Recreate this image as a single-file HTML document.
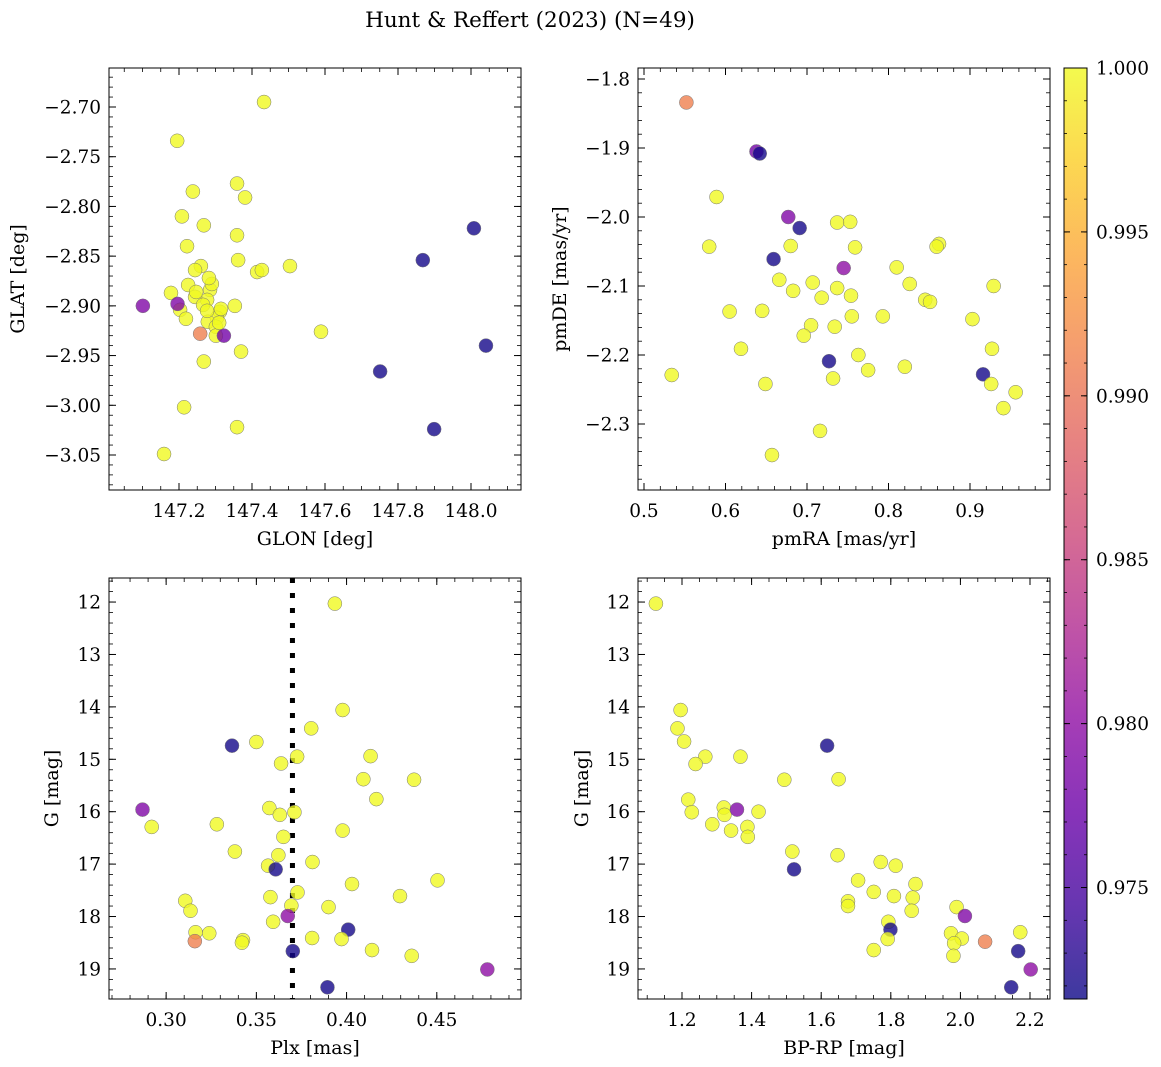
<!DOCTYPE html>
<html><head><meta charset="utf-8"><style>
html,body{margin:0;padding:0;background:#fff;}
svg{display:block;font-family:"DejaVu Serif","Liberation Serif",serif;}
</style></head><body>
<svg id="fig" width="1161" height="1067" viewBox="0 0 1161 1067" xmlns="http://www.w3.org/2000/svg">
<defs><linearGradient id="plasma" x1="0" y1="1" x2="0" y2="0"></linearGradient></defs>
<text x="530" y="27" font-size="21.5" text-anchor="middle">Hunt &amp; Reffert (2023) (N=49)</text>
</svg>
<script>
// ---- data ----
const tlLon=[147.101,147.433,147.195,147.238,147.359,147.381,147.208,147.268,147.359,147.222,147.260,147.244,147.362,147.414,147.427,147.504,147.178,147.225,147.285,147.290,147.277,147.244,147.203,147.353,147.266,147.312,147.304,147.219,147.279,147.301,147.258,147.301,147.323,147.589,147.370,147.268,147.214,147.359,147.159,148.008,147.868,148.041,147.751,147.899,147.282,147.310,147.247,147.277,147.315];
const tlLat=[-2.900,-2.695,-2.734,-2.785,-2.777,-2.791,-2.810,-2.819,-2.829,-2.840,-2.860,-2.864,-2.854,-2.866,-2.864,-2.860,-2.887,-2.879,-2.884,-2.878,-2.894,-2.891,-2.904,-2.900,-2.899,-2.906,-2.912,-2.913,-2.916,-2.921,-2.928,-2.930,-2.930,-2.926,-2.946,-2.956,-3.002,-3.022,-3.049,-2.822,-2.854,-2.940,-2.966,-3.024,-2.872,-2.917,-2.886,-2.905,-2.903];
const tlC=[0.979,1,1,1,1,1,1,1,1,1,1,1,1,1,1,1,1,1,1,1,1,1,1,1,1,1,1,1,1,1,0.991,1,0.978,1,1,1,1,1,1,0.972,0.972,0.972,0.972,0.972,1,1,1,1,1];
const tlPurple=[147.196,-2.898,0.979];
const trRA=[0.552,0.638,0.642,0.589,0.677,0.691,0.737,0.753,0.580,0.680,0.759,0.862,0.859,0.659,0.745,0.810,0.666,0.707,0.826,0.683,0.737,0.718,0.754,0.929,0.845,0.851,0.605,0.645,0.755,0.793,0.903,0.705,0.734,0.696,0.619,0.927,0.763,0.727,0.775,0.820,0.534,0.916,0.732,0.649,0.926,0.956,0.941,0.716,0.657];
const trDE=[-1.834,-1.905,-1.908,-1.971,-2.000,-2.016,-2.008,-2.007,-2.043,-2.042,-2.044,-2.039,-2.043,-2.061,-2.074,-2.073,-2.091,-2.095,-2.097,-2.107,-2.103,-2.117,-2.114,-2.100,-2.120,-2.123,-2.137,-2.136,-2.144,-2.144,-2.148,-2.157,-2.159,-2.172,-2.191,-2.191,-2.200,-2.209,-2.222,-2.217,-2.229,-2.228,-2.234,-2.242,-2.242,-2.254,-2.277,-2.310,-2.345];
const trC=[0.991,0.978,0.972,1,0.979,0.972,1,1,1,1,1,1,1,0.972,0.980,1,1,1,1,1,1,1,1,1,1,1,1,1,1,1,1,1,1,1,1,1,1,0.972,1,1,1,0.972,1,1,1,1,1,1,1];
const blPlx=[0.3935,0.3978,0.3804,0.3365,0.350,0.3726,0.3637,0.4133,0.4093,0.4374,0.4165,0.2869,0.3572,0.363,0.3711,0.292,0.3281,0.3978,0.365,0.3381,0.3622,0.3565,0.3607,0.3811,0.4504,0.403,0.4296,0.3728,0.3578,0.3106,0.3135,0.3694,0.39,0.3674,0.3593,0.4009,0.3163,0.3239,0.3159,0.3426,0.342,0.3809,0.3972,0.4141,0.4361,0.3702,0.478,0.3894];
const blG=[12.03,14.06,14.41,14.74,14.67,14.95,15.08,14.94,15.38,15.39,15.76,15.96,15.93,16.06,16.01,16.29,16.24,16.36,16.48,16.76,16.83,17.03,17.10,16.96,17.31,17.38,17.61,17.54,17.63,17.70,17.89,17.79,17.82,17.99,18.10,18.25,18.30,18.32,18.47,18.45,18.50,18.41,18.43,18.64,18.75,18.66,19.01,19.35];
const blC=[1,1,1,0.972,1,1,1,1,1,1,1,0.979,1,1,1,1,1,1,1,1,1,1,0.972,1,1,1,1,1,1,1,1,1,1,0.980,1,0.972,1,1,0.991,1,1,1,1,1,1,0.972,0.980,0.972];
const brBR=[1.125,1.196,1.187,1.206,1.267,1.239,1.368,1.617,1.494,1.650,1.218,1.228,1.320,1.322,1.358,1.420,1.287,1.388,1.341,1.389,1.517,1.522,1.647,1.771,1.814,1.706,1.871,1.751,1.809,1.863,1.677,1.677,1.860,1.989,2.013,1.793,1.799,1.791,1.751,1.973,2.004,1.982,1.980,2.071,2.172,2.166,2.202,2.146];
const brG=[12.03,14.06,14.41,14.66,14.95,15.09,14.95,14.74,15.39,15.38,15.77,16.01,15.92,16.06,15.96,16.0,16.24,16.29,16.36,16.48,16.76,17.10,16.83,16.96,17.03,17.31,17.38,17.53,17.61,17.64,17.71,17.80,17.89,17.82,17.99,18.10,18.25,18.43,18.64,18.32,18.42,18.51,18.75,18.48,18.30,18.66,19.01,19.35];
const brC=[1,1,1,1,1,1,1,0.972,1,1,1,1,1,1,0.979,1,1,1,1,1,1,0.972,1,1,1,1,1,1,1,1,1,1,1,1,0.979,1,0.972,1,1,1,1,1,1,0.991,1,0.972,0.980,0.972];
const plxLine=0.370;
const cbTicks=[0.975,0.980,0.985,0.990,0.995,1.000];
const cMin=0.9716, cMax=1.0;

const NS="http://www.w3.org/2000/svg";
const svg=document.getElementById('fig');
function mk(tag,attrs,parent){const e=document.createElementNS(NS,tag);for(const k in attrs)e.setAttribute(k,attrs[k]);(parent||svg).appendChild(e);return e;}
const stops=[[13,8,135],[65,4,157],[106,0,168],[143,13,164],[177,42,144],[204,71,120],[225,100,98],[242,132,75],[252,166,54],[252,206,37],[240,249,33]];
function plasma(t){t=Math.max(0,Math.min(1,t))*10;const i=Math.min(9,Math.floor(t)),f=t-i;const a=stops[i],b=stops[i+1];return 'rgb('+a.map((v,k)=>Math.round(v+(b[k]-v)*f)).join(',')+')';}
function cnorm(c){return (c-cMin)/(cMax-cMin);}
const grad=document.getElementById('plasma');
for(let i=0;i<=10;i++){mk('stop',{offset:(i*10)+'%','stop-color':plasma(i/10)},grad);}
function fmt(v,d){const s=Math.abs(v).toFixed(d);return (v<0?'\u2212':'')+s;}
const TFS=18.5, LFS=19;

function panel(name,box,xr,yr,xt,xd,xm,yt,yd,ym,xlab,ylab,ylabX,xs,ys,cs,extra){
  const [L,T,R,B]=box;
  const X=v=>L+(v-xr[0])/(xr[1]-xr[0])*(R-L);
  const Y=v=>T+(v-yr[1])/(yr[0]-yr[1])*(B-T);
  const g=mk('g',{});
  
  
  if(extra) extra(g,X,Y);
  for(let i=0;i<xs.length;i++){
    const c=mk('circle',{cx:X(xs[i]),cy:Y(ys[i]),r:7,fill:plasma(cnorm(cs[i])),'fill-opacity':0.8,stroke:'#777','stroke-width':0.5},g);
    
    
  }
  const fr=mk('rect',{x:L,y:T,width:R-L,height:B-T,fill:'none',stroke:'#000','stroke-width':1},g);
  
  
  const eps=1e-9;
  for(let v=Math.ceil(xr[0]/xm-eps)*xm; v<=xr[1]+eps; v+=xm){const x=X(v);mk('line',{x1:x,x2:x,y1:B,y2:B-4,stroke:'#000','stroke-width':0.8},g);mk('line',{x1:x,x2:x,y1:T,y2:T+4,stroke:'#000','stroke-width':0.8},g);}
  const yl=Math.min(yr[0],yr[1]),yh=Math.max(yr[0],yr[1]);
  for(let v=Math.ceil(yl/ym-eps)*ym; v<=yh+eps; v+=ym){const y=Y(v);mk('line',{x1:L,x2:L+4,y1:y,y2:y,stroke:'#000','stroke-width':0.8},g);mk('line',{x1:R,x2:R-4,y1:y,y2:y,stroke:'#000','stroke-width':0.8},g);}
  xt.forEach(v=>{const x=X(v);mk('line',{x1:x,x2:x,y1:B,y2:B-7,stroke:'#000','stroke-width':1},g);mk('line',{x1:x,x2:x,y1:T,y2:T+7,stroke:'#000','stroke-width':1},g);
    const t=mk('text',{x:x,y:B+27,'font-size':TFS,'text-anchor':'middle'},g);t.textContent=fmt(v,xd);
    
    });
  yt.forEach(v=>{const y=Y(v);mk('line',{x1:L,x2:L+7,y1:y,y2:y,stroke:'#000','stroke-width':1},g);mk('line',{x1:R,x2:R-7,y1:y,y2:y,stroke:'#000','stroke-width':1},g);
    const t=mk('text',{x:L-8,y:y+6.5,'font-size':TFS,'text-anchor':'end'},g);t.textContent=fmt(v,yd);
    
    });
  const xl=mk('text',{x:(L+R)/2,y:B+55,'font-size':LFS,'text-anchor':'middle'},g);xl.textContent=xlab;
  
  
  const cy=(T+B)/2;
  const yl2=mk('text',{x:ylabX,y:cy,'font-size':LFS,'text-anchor':'middle',transform:'rotate(-90 '+ylabX+' '+cy+')'},g);yl2.textContent=ylab;
  
  
}
panel('glon-glat-panel',[109,68,521,490],[147.2-70/365,148.0+50/365],[-3.05-35/994.3,-2.70+39/994.3],
  [147.2,147.4,147.6,147.8,148.0],1,0.05,[-2.70,-2.75,-2.80,-2.85,-2.90,-2.95,-3.00,-3.05],2,0.01,'GLON [deg]','GLAT [deg]',24,
  tlLon.concat([tlPurple[0]]),tlLat.concat([tlPurple[1]]),tlC.concat([tlPurple[2]]));
panel('pm-panel',[638,68,1050,490],[0.5-6/815,0.9+80/815],[-2.3-66/690,-1.8+11/690],
  [0.5,0.6,0.7,0.8,0.9],1,0.02,[-1.8,-1.9,-2.0,-2.1,-2.2,-2.3],1,0.02,'pmRA [mas/yr]','pmDE [mas/yr]',566,trRA,trDE,trC);
panel('plx-g-panel',[109,578,521,999],[0.30-57/1800,0.45+84/1800],[19+30/52.3,12-24/52.3],
  [0.30,0.35,0.40,0.45],2,0.01,[12,13,14,15,16,17,18,19],0,0.2,'Plx [mas]','G [mag]',58,blPlx,blG,blC,
  (g,X,Y)=>{const l=mk('line',{x1:X(plxLine),x2:X(plxLine),y1:578,y2:999,stroke:'#000','stroke-width':5,'stroke-dasharray':'5,10'},g);
    
    });
panel('color-magnitude-panel',[638,578,1050,999],[1.2-44/348,2.2+20/348],[19+30/52.3,12-24/52.3],
  [1.2,1.4,1.6,1.8,2.0,2.2],1,0.05,[12,13,14,15,16,17,18,19],0,0.2,'BP-RP [mag]','G [mag]',588,brBR,brG,brC);
const cbL=1064,cbR=1087,cbT=68,cbB=999;
const CY=v=>cbB-(v-cMin)/(cMax-cMin)*(cbB-cbT);
const cb=mk('g',{});


mk('rect',{x:cbL,y:cbT,width:cbR-cbL,height:cbB-cbT,fill:'url(#plasma)','fill-opacity':0.8},cb);
mk('rect',{x:cbL,y:cbT,width:cbR-cbL,height:cbB-cbT,fill:'none',stroke:'#000','stroke-width':1},cb);
for(let v=0.972;v<=1.00001;v+=0.001){const y=CY(v);mk('line',{x1:cbR,x2:cbR-3,y1:y,y2:y,stroke:'#000','stroke-width':0.8},cb);mk('line',{x1:cbL,x2:cbL+3,y1:y,y2:y,stroke:'#000','stroke-width':0.8},cb);}
cbTicks.forEach(v=>{const y=CY(v);mk('line',{x1:cbR,x2:cbR-6,y1:y,y2:y,stroke:'#000','stroke-width':1},cb);mk('line',{x1:cbL,x2:cbL+6,y1:y,y2:y,stroke:'#000','stroke-width':1},cb);
  const t=mk('text',{x:cbR+9,y:y+6.5,'font-size':TFS},cb);t.textContent=v.toFixed(3);
  
  });
</script>
</body></html>
